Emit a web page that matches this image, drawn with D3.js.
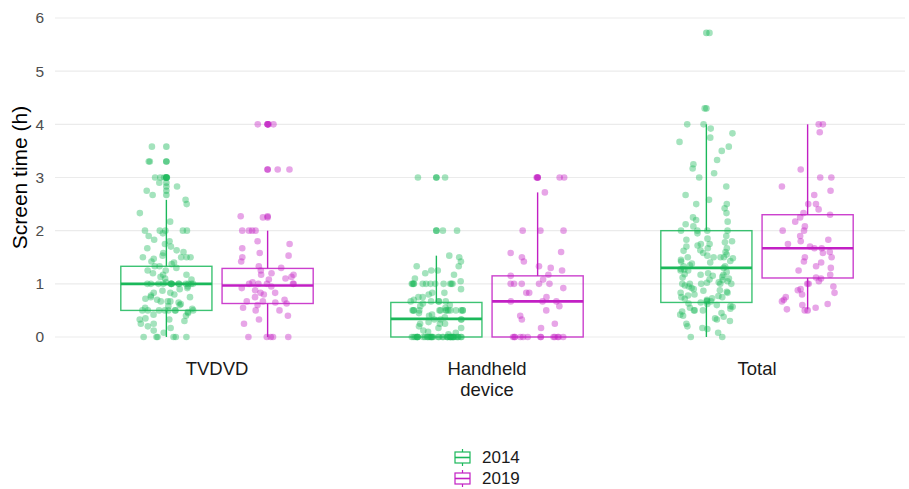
<!DOCTYPE html>
<html>
<head>
<meta charset="utf-8">
<script src="https://cdn.jsdelivr.net/npm/d3@7"></script>
<style>
  body { margin: 0; background: #fff; }
  text { font-family: "Liberation Sans", Arial, sans-serif; }
</style>
</head>
<body>
<div id="chart"></div>
<script>
// categories and groups
const categories = ["TVDVD", "Handheld device", "Total"];
const categoryLabels = [["TVDVD"], ["Handheld", "device"], ["Total"]];
const years = ["2014", "2019"];
const yTicks = [0, 1, 2, 3, 4, 5, 6];

const tvdvd2014 = [0,0,0,0,0,0,
  0.08,0.12,0.17,0.2,0.25,0.25,0.3,0.33,0.33,0.35,0.4,0.42,0.45,0.47,
  0.5,0.5,0.5,0.5,0.5,0.5,0.5,0.5,
  0.53,0.55,0.58,0.6,0.62,0.65,0.67,0.67,0.67,0.7,0.72,0.75,0.75,0.78,0.8,0.83,0.83,0.87,0.9,0.92,0.95,
  1,1,1,1,1,1,1,1,1,1,1,1,1,1,
  1.03,1.08,1.1,1.13,1.17,1.17,1.2,1.25,1.25,1.3,1.33,1.33,1.37,1.4,1.42,1.47,
  1.5,1.5,1.5,1.5,1.53,1.58,1.6,1.63,1.67,1.7,1.75,1.8,1.83,1.9,1.95,
  2,2,2,2,2,2.17,2.33,2.5,2.58,
  2.67,2.75,2.83,2.9,3,3,3,3,3.3,3.3,3.58];
const tvdvd2019 = [0,0,0,0,0,0.25,0.33,0.4,0.5,0.5,0.55,0.6,0.63,0.65,0.67,0.67,0.7,0.75,0.8,0.83,0.83,0.88,0.92,0.95,
  1,1,1,1,1,1.03,1.08,1.1,1.13,1.17,1.17,1.2,1.25,1.3,1.33,1.42,1.5,1.53,1.58,1.67,1.75,1.8,
  2,2,2,2,2.25,2.27,3.15,3.15,4,4,4];
const handheld2014 = [0,0,0,0,0,0,0,0,0,0,0,0,0,0,0,0,0,0,0,0,0,0,0,0,0,0,0,0,0,0,0,0,0,0,0,0,0,0,
  0.05,0.08,0.1,0.12,0.17,0.17,0.2,0.25,0.25,0.25,0.28,0.33,0.33,0.33,0.33,0.37,0.4,0.42,0.45,
  0.5,0.5,0.5,0.5,0.5,0.5,0.5,0.5,0.5,0.5,0.5,0.5,0.5,0.5,
  0.55,0.58,0.6,0.63,0.67,0.67,0.67,0.67,0.67,0.7,0.75,0.75,0.8,0.83,0.83,0.9,
  1,1,1,1,1,1,1,1,1,1,1,1,
  1.05,1.1,1.17,1.2,1.25,1.25,1.33,1.33,1.42,1.5,1.53,
  2,2,3,3];
const handheld2019 = [0,0,0,0,0,0,0,0,0,0,0,0,0,
  0.17,0.25,0.33,0.4,0.5,0.58,0.67,0.67,0.67,0.75,0.83,0.83,0.92,
  1,1,1,1,1,1.08,1.15,1.17,1.25,1.3,1.33,1.42,1.5,1.58,1.6,
  2,2,2,2.72,3,3,3];
const total2014 = [0,0,0.08,0.15,0.17,0.2,0.25,0.3,0.33,0.35,0.38,0.4,0.42,0.45,0.48,
  0.5,0.5,0.5,0.53,0.55,0.57,0.58,0.6,0.62,0.63,0.65,0.67,0.67,0.68,0.7,0.72,0.73,0.75,0.75,0.77,0.78,
  0.8,0.83,0.83,0.85,0.87,0.88,0.9,0.92,0.95,0.97,
  1,1,1,1,1,1.02,1.03,1.05,1.07,1.08,1.1,1.12,1.13,1.15,1.17,1.17,1.18,1.2,1.22,1.25,1.25,1.27,1.28,
  1.3,1.33,1.33,1.35,1.38,1.4,1.42,1.43,1.45,1.48,1.5,1.5,1.5,1.5,1.53,1.55,1.58,1.6,1.62,1.63,
  1.67,1.67,1.7,1.72,1.75,1.75,1.78,1.8,1.83,1.85,1.9,1.95,
  2,2,2,2,2.08,2.12,2.17,2.2,2.25,2.33,2.42,2.5,2.5,2.58,2.67,2.83,
  3,3.08,3.17,3.25,3.33,3.5,3.58,3.67,3.75,3.83,3.92,4,4,4.3,5.72];
const total2019 = [0.5,0.52,0.55,0.6,0.62,0.67,0.7,0.75,0.8,0.83,0.88,0.9,0.95,
  1,1,1.05,1.1,1.12,1.17,1.25,1.3,1.33,1.4,1.42,1.5,1.5,1.58,1.6,1.67,1.67,1.7,1.75,1.8,1.83,1.9,
  2,2,2.08,2.17,2.25,2.3,2.33,2.4,2.5,2.5,2.67,2.75,2.83,3,3,3.15,3.85,4,4];

// box statistics per category (TVDVD, Handheld, Total)
const lo2014 = [0, 0, 0];
const q1_2014 = [0.5, 0, 0.65];
const med2014 = [1.0, 0.34, 1.3];
const q3_2014 = [1.33, 0.65, 2.0];
const hi2014 = [2.58, 1.53, 4.0];
const lo2019 = [0, 0, 0.52];
const q1_2019 = [0.63, 0, 1.11];
const med2019 = [0.97, 0.67, 1.67];
const q3_2019 = [1.29, 1.15, 2.3];
const hi2019 = [2.0, 2.72, 4.0];

const colors = { "2014": "#1bb85a", "2019": "#c21fc4" };

const groups = [];
const obs = { "2014": [tvdvd2014, handheld2014, total2014], "2019": [tvdvd2019, handheld2019, total2019] };
const stats = {
  "2014": [lo2014, q1_2014, med2014, q3_2014, hi2014],
  "2019": [lo2019, q1_2019, med2019, q3_2019, hi2019]
};
categories.forEach((c, ci) => {
  years.forEach(yr => {
    const s = stats[yr];
    groups.push({
      category: c, year: yr, values: obs[yr][ci],
      lo: s[0][ci], q1: s[1][ci], med: s[2][ci], q3: s[3][ci], hi: s[4][ci]
    });
  });
});

const width = 909, height = 489;
const svg = d3.select("#chart").append("svg")
  .attr("width", width).attr("height", height);

const panel = { left: 55, right: 905, top: 18, bottom: 337 };

const x = d3.scalePoint().domain(categories).range([217, 757]);
const step = x.step();
const xYear = d3.scaleBand().domain(years).range([-0.375 * step, 0.375 * step]);
const boxW = xYear.bandwidth() * 0.9;
const jitterW = 0.1 * step;

const y = d3.scaleLinear().domain([0, 6]).range([panel.bottom, panel.top]);

// grid
svg.append("g")
  .selectAll("line")
  .data(yTicks)
  .join("line")
  .attr("x1", panel.left).attr("x2", panel.right)
  .attr("y1", d => y(d)).attr("y2", d => y(d))
  .attr("stroke", "#ebebeb").attr("stroke-width", 1.1);

// y axis
const yAxis = svg.append("g")
  .attr("transform", `translate(${panel.left},0)`)
  .call(d3.axisLeft(y).tickValues(yTicks).tickFormat(d3.format("d")).tickSize(0).tickPadding(11));
yAxis.select(".domain").remove();
yAxis.attr("font-size", null).attr("font-family", null);
yAxis.selectAll("text")
  .attr("fill", "#4d4d4d")
  .style("font-size", "15.5px");

svg.append("text")
  .attr("transform", `translate(27,${(panel.top + panel.bottom) / 2}) rotate(-90)`)
  .attr("text-anchor", "middle")
  .attr("fill", "#000")
  .style("font-size", "21px")
  .text("Screen time (h)");

// x labels
const xl = svg.append("g")
  .selectAll("text")
  .data(categories)
  .join("text")
  .attr("x", d => x(d))
  .attr("y", 375)
  .attr("text-anchor", "middle")
  .attr("fill", "#1a1a1a")
  .style("font-size", "18.5px");
xl.selectAll("tspan")
  .data((d, i) => categoryLabels[i])
  .join("tspan")
  .attr("x", function () { return d3.select(this.parentNode).attr("x"); })
  .attr("dy", (d, i) => i === 0 ? 0 : 21)
  .text(d => d);

const gx = g => x(g.category) + xYear(g.year) + xYear.bandwidth() / 2;

// boxes
const boxes = svg.append("g")
  .selectAll("g")
  .data(groups)
  .join("g")
  .attr("stroke", d => colors[d.year])
  .attr("fill", "none");

boxes.append("line")
  .attr("x1", gx).attr("x2", gx)
  .attr("y1", d => y(d.q3)).attr("y2", d => y(d.hi))
  .attr("stroke-width", 1.4);
boxes.append("line")
  .attr("x1", gx).attr("x2", gx)
  .attr("y1", d => y(d.q1)).attr("y2", d => y(d.lo))
  .attr("stroke-width", 1.4);
boxes.append("rect")
  .attr("x", d => gx(d) - boxW / 2)
  .attr("width", boxW)
  .attr("y", d => y(d.q3))
  .attr("height", d => y(d.q1) - y(d.q3))
  .attr("stroke-opacity", 0.85)
  .attr("stroke-width", 1.4);
boxes.append("line")
  .attr("x1", d => gx(d) - boxW / 2).attr("x2", d => gx(d) + boxW / 2)
  .attr("y1", d => y(d.med)).attr("y2", d => y(d.med))
  .attr("stroke-width", 2.6);

// outliers drawn at the box centre
svg.append("g")
  .selectAll("circle")
  .data(groups.flatMap(g => g.values.filter(v => v > g.hi || v < g.lo).map(v => ({ g, v }))))
  .join("circle")
  .attr("cx", d => gx(d.g))
  .attr("cy", d => y(d.v))
  .attr("r", 3.3)
  .attr("fill", d => colors[d.g.year])
  .attr("fill-opacity", 0.45);

// jittered points: horizontal offset from an integer hash of the point index
const jit = (i, k) => {
  let h = Math.imul((i + 1) * 374761393 + k * 668265263, 0x27d4eb2d);
  h = Math.imul(h ^ (h >>> 15), 0x85ebca6b);
  h ^= h >>> 13;
  return ((h >>> 0) / 4294967296) * 2 - 1;
};
svg.append("g")
  .selectAll("circle")
  .data(groups.flatMap((g, k) => g.values.map((v, i) => ({ g, v, i, k }))))
  .join("circle")
  .attr("cx", d => gx(d.g) + jit(d.i, d.k) * jitterW)
  .attr("cy", d => y(d.v))
  .attr("r", 3.3)
  .attr("fill", d => colors[d.g.year])
  .attr("fill-opacity", 0.4);

// legend
const legend = svg.append("g").attr("transform", "translate(455,449)");
const items = legend.selectAll("g")
  .data(years)
  .join("g")
  .attr("transform", (d, i) => `translate(0,${i * 21})`);
items.append("rect")
  .attr("x", 0).attr("y", 3).attr("width", 15).attr("height", 11)
  .attr("fill", "none").attr("stroke", d => colors[d]).attr("stroke-width", 1.2);
items.append("line")
  .attr("x1", 0).attr("x2", 15).attr("y1", 8.5).attr("y2", 8.5)
  .attr("stroke", d => colors[d]).attr("stroke-width", 1.6);
items.append("line")
  .attr("x1", 7.5).attr("x2", 7.5).attr("y1", 0).attr("y2", 3)
  .attr("stroke", d => colors[d]).attr("stroke-width", 1.2);
items.append("line")
  .attr("x1", 7.5).attr("x2", 7.5).attr("y1", 14).attr("y2", 17)
  .attr("stroke", d => colors[d]).attr("stroke-width", 1.2);
items.append("text")
  .attr("x", 27).attr("y", 8.5).attr("dy", "0.35em")
  .attr("fill", "#1a1a1a")
  .style("font-size", "17px")
  .text(d => d);
</script>
</body>
</html>
